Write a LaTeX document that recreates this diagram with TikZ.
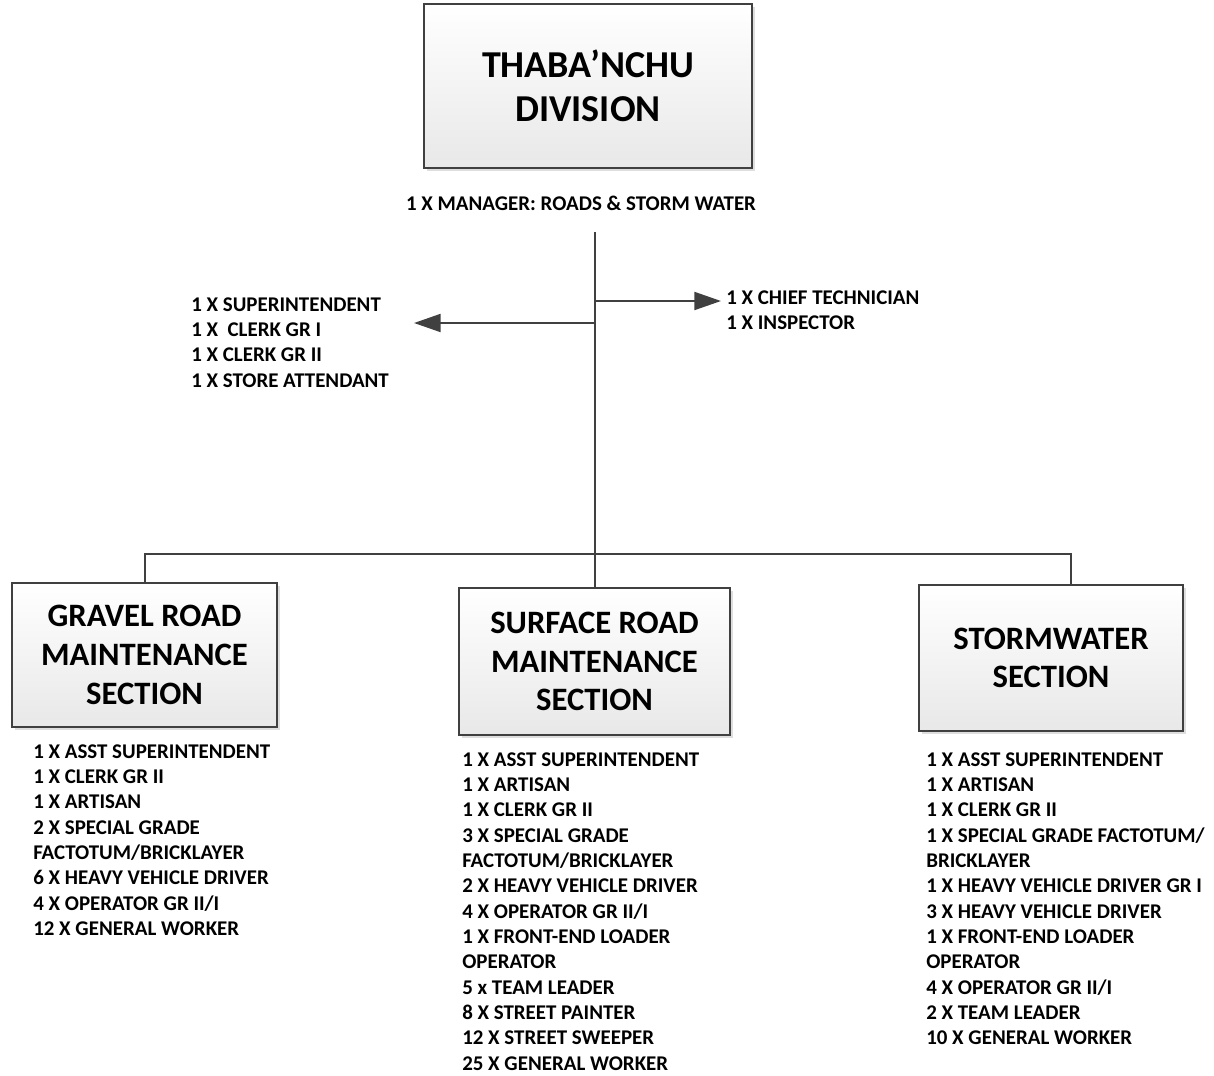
\documentclass[tikz,border=0pt]{standalone}
\usepackage{fontspec}
\setmainfont{Carlito}
\usetikzlibrary{arrows.meta,shadows,positioning}
\definecolor{linegray}{HTML}{404040}
\tikzset{
unitbox/.style={
    draw=linegray, line width=0.8pt, rectangle, align=center,
    top color=white, bottom color=black!9,
    drop shadow={shadow xshift=2.5pt, shadow yshift=-2.5pt, fill=black!13, opacity=1},
    font=\bfseries\fontsize{24.5}{29}\selectfont
  }
}

\begin{document}
\begin{tikzpicture}[x=0.75pt, y=-0.75pt,
 stafflist/.style={
        anchor=north west, align=left, inner sep=0pt,
        font=\bfseries\fontsize{15.7}{19}\selectfont
    },
 link/.style={draw=linegray, line width=1.5pt},
 arrow/.style={link, -{Triangle[length=20pt, width=13.5pt]}}
  ]
\useasboundingbox (0,0) rectangle (1214,1075);

\node[unitbox, minimum width=246pt, minimum height=123pt,
      font=\bfseries\fontsize{28.5}{33}\selectfont] (div) at (588,86) {THABA’NCHU\\DIVISION};
\node[stafflist, anchor=center] (mgr) at (581,203) {1 X MANAGER: ROADS \& STORM WATER};

\node[stafflist] (office) at (191,297) {1 X SUPERINTENDENT\\1 X \ CLERK GR I\\1 X CLERK GR II\\1 X STORE ATTENDANT};
\node[stafflist] (tech) at (726,290) {1 X CHIEF TECHNICIAN\\1 X INSPECTOR};

\node[unitbox, minimum width=198.75pt, minimum height=108pt] (gravel) at (144.5,655) {GRAVEL ROAD\\MAINTENANCE\\SECTION};
\node[unitbox, minimum width=203.25pt, minimum height=110.25pt] (surface) at (594.5,661.5) {SURFACE ROAD\\MAINTENANCE\\SECTION};
\node[unitbox, minimum width=198pt, minimum height=109.5pt] (storm) at (1051,658) {STORMWATER\\SECTION};

\node[stafflist] (gravellist) at (33,744) {1 X ASST SUPERINTENDENT\\1 X CLERK GR II\\1 X ARTISAN\\2 X SPECIAL GRADE\\FACTOTUM/BRICKLAYER\\6 X HEAVY VEHICLE DRIVER\\4 X OPERATOR GR II/I\\12 X GENERAL WORKER};
\node[stafflist] (surfacelist) at (462,752) {1 X ASST SUPERINTENDENT\\1 X ARTISAN\\1 X CLERK GR II\\3 X SPECIAL GRADE\\FACTOTUM/BRICKLAYER\\2 X HEAVY VEHICLE DRIVER\\4 X OPERATOR GR II/I\\1 X FRONT-END LOADER\\OPERATOR\\5 x TEAM LEADER\\8 X STREET PAINTER\\12 X STREET SWEEPER\\25 X GENERAL WORKER};
\node[stafflist] (stormlist) at (926,752) {1 X ASST SUPERINTENDENT\\1 X ARTISAN\\1 X CLERK GR II\\1 X SPECIAL GRADE FACTOTUM/\\BRICKLAYER\\1 X HEAVY VEHICLE DRIVER GR I\\3 X HEAVY VEHICLE DRIVER\\1 X FRONT-END LOADER\\OPERATOR\\4 X OPERATOR GR II/I\\2 X TEAM LEADER\\10 X GENERAL WORKER};

\coordinate (trunk) at (595,232);
\coordinate (rj) at (595,301);
\coordinate (lj) at (595,323);
\coordinate (lt) at (414,323);
\coordinate (bus) at (595,554);
\coordinate (sd) at (1071,554);

\draw[link] (trunk) -- (trunk |- surface.north);
\draw[arrow] (rj) -- (rj -| 721,0);
\draw[arrow] (lj) -- (lt);
\draw[link] (gravel.north) |- (bus) -- (sd) -- (sd |- storm.north);
\end{tikzpicture}
\end{document}
